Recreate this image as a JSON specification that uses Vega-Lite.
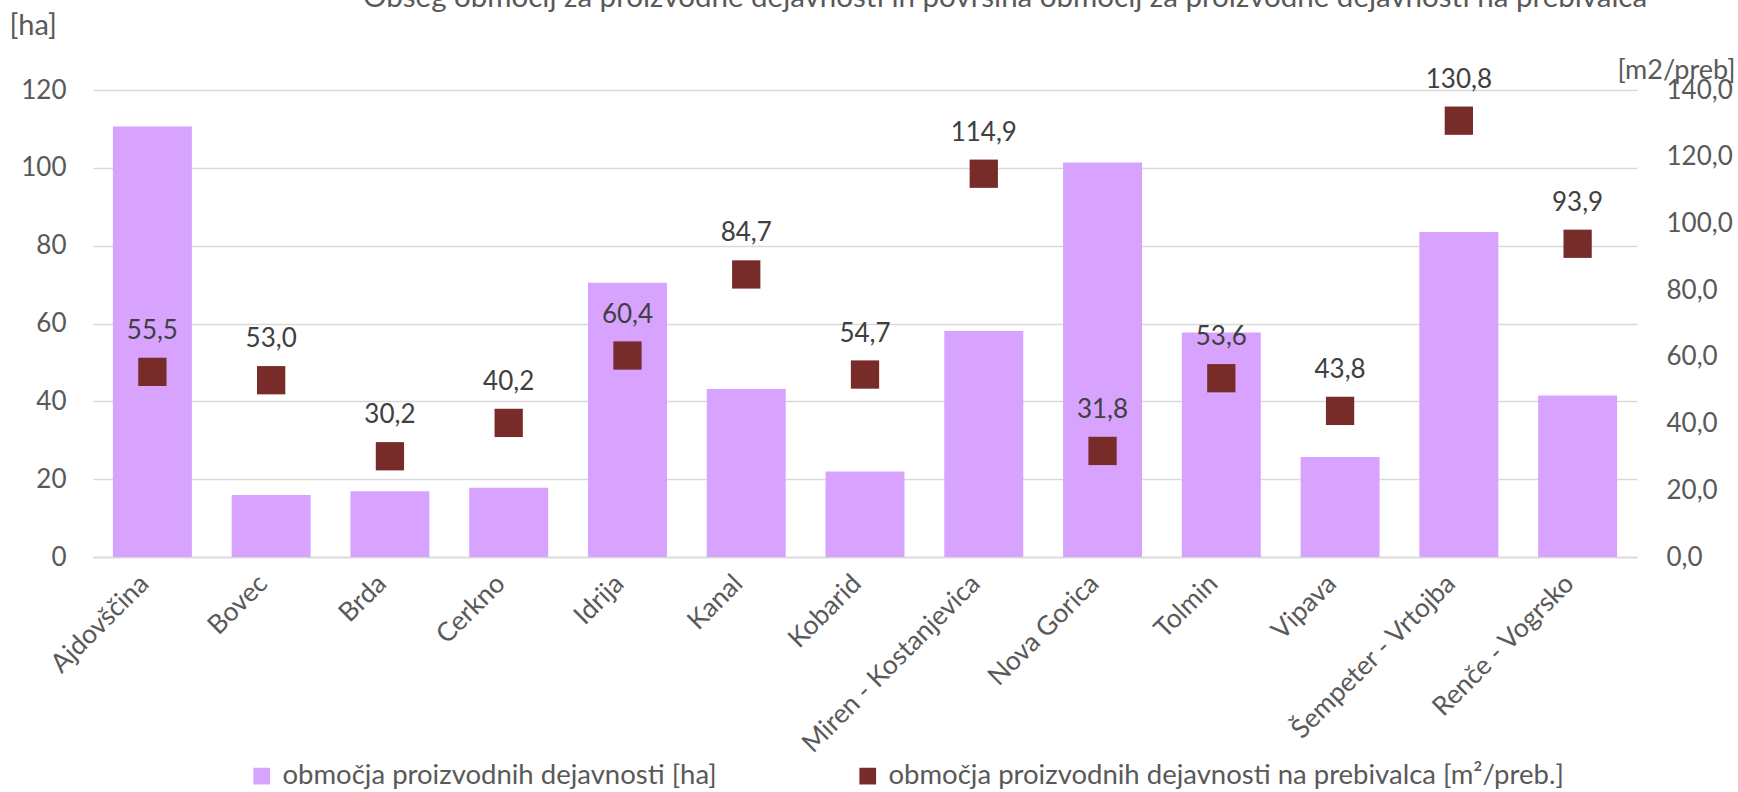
{
  "$schema": "https://vega.github.io/schema/vega-lite/v6.json",
  "width": 1544,
  "height": 467,
  "autosize": {"type": "none"},
  "padding": {"left": 93, "top": 90, "right": 101, "bottom": 235},
  "background": "white",
  "config": {
    "view": {"stroke": null},
    "font": "Lato",
    "locale": {"number": {"decimal": ",", "thousands": ".", "grouping": [3], "currency": ["", " €"]}}
  },
  "title": {
    "text": "Obseg območij za proizvodne dejavnosti in površina območij za proizvodne dejavnosti na prebivalca",
    "font": "Lato",
    "fontSize": 29.5,
    "fontWeight": "normal",
    "color": "#595959",
    "anchor": "middle",
    "baseline": "alphabetic",
    "dx": 140,
    "dy": 25,
    "offset": 0
  },
  "data": {
    "values": [
      {"obcina": "Ajdovščina", "ha": 110.6, "m2": 55.5},
      {"obcina": "Bovec", "ha": 15.9, "m2": 53.0},
      {"obcina": "Brda", "ha": 16.9, "m2": 30.2},
      {"obcina": "Cerkno", "ha": 17.8, "m2": 40.2},
      {"obcina": "Idrija", "ha": 70.5, "m2": 60.4},
      {"obcina": "Kanal", "ha": 43.2, "m2": 84.7},
      {"obcina": "Kobarid", "ha": 22.0, "m2": 54.7},
      {"obcina": "Miren - Kostanjevica", "ha": 58.1, "m2": 114.9},
      {"obcina": "Nova Gorica", "ha": 101.4, "m2": 31.8},
      {"obcina": "Tolmin", "ha": 57.7, "m2": 53.6},
      {"obcina": "Vipava", "ha": 25.7, "m2": 43.8},
      {"obcina": "Šempeter - Vrtojba", "ha": 83.5, "m2": 130.8},
      {"obcina": "Renče - Vogrsko", "ha": 41.5, "m2": 93.9}
    ]
  },
  "encoding": {
    "x": {
      "field": "obcina",
      "type": "nominal",
      "sort": null,
      "scale": {"paddingInner": 0.335, "paddingOuter": 0.1675},
      "axis": {
        "title": null,
        "labelAngle": -45,
        "labelFontSize": 26.5,
        "labelColor": "#595959",
        "labelFont": "Lato",
        "labelPadding": 13,
        "labelOffset": -17,
        "ticks": false,
        "domain": true,
        "domainColor": "#d9d9d9",
        "domainWidth": 1.5,
        "labelLimit": 400
      }
    }
  },
  "layer": [
    {
      "mark": {"type": "bar"},
      "encoding": {
        "y": {
          "field": "ha",
          "type": "quantitative",
          "scale": {"domain": [0, 120], "nice": false},
          "axis": {
            "orient": "left",
            "values": [0, 20, 40, 60, 80, 100, 120],
            "format": "d",
            "grid": true,
            "gridColor": "#d9d9d9",
            "gridWidth": 1.5,
            "domain": false,
            "ticks": false,
            "labelFontSize": 26,
            "labelColor": "#595959",
            "labelPadding": 27,
            "title": "[ha]",
            "titleAngle": 0,
            "titleFontSize": 29,
            "titleFontWeight": "normal",
            "titleColor": "#595959",
            "titleAlign": "left",
            "titleBaseline": "middle",
            "titleX": -84,
            "titleY": -65
          }
        },
        "color": {
          "datum": "območja proizvodnih dejavnosti [ha]",
          "type": "nominal",
          "scale": {
            "domain": ["območja proizvodnih dejavnosti [ha]", "območja proizvodnih dejavnosti na prebivalca [m²/preb.]"],
            "range": ["#D8A3FF", "#772C2A"]
          },
          "legend": {
            "orient": "none",
            "legendX": 155,
            "legendY": 672,
            "direction": "horizontal",
            "title": null,
            "symbolType": "square",
            "symbolSize": 280,
            "symbolStrokeWidth": 0,
            "labelFontSize": 27.5,
            "labelColor": "#595959",
            "labelLimit": 1000,
            "labelOffset": 7,
            "columnPadding": 137
          }
        }
      }
    },
    {
      "layer": [
        {
          "mark": {"type": "point", "shape": "square", "filled": true, "size": 800, "opacity": 1},
          "encoding": {
            "y": {
              "field": "m2",
              "type": "quantitative",
              "scale": {"domain": [0, 140], "nice": false},
              "axis": {
                "orient": "right",
                "values": [0, 20, 40, 60, 80, 100, 120, 140],
                "format": ".1f",
                "grid": false,
                "domain": false,
                "ticks": false,
                "labelFontSize": 26,
                "labelColor": "#595959",
                "labelPadding": 29,
                "title": "[m2/preb]",
                "titleAngle": 0,
                "titleFontSize": 27,
                "titleFontWeight": "normal",
                "titleColor": "#595959",
                "titleAlign": "right",
                "titleBaseline": "middle",
                "titleX": 98,
                "titleY": -20
              }
            },
            "color": {"datum": "območja proizvodnih dejavnosti na prebivalca [m²/preb.]", "type": "nominal"}
          }
        },
        {
          "mark": {"type": "text", "dy": -33, "baseline": "alphabetic", "fontSize": 26, "color": "#404040", "font": "Lato"},
          "encoding": {
            "y": {"field": "m2", "type": "quantitative"},
            "text": {"field": "m2", "type": "quantitative", "format": ".1f"}
          }
        }
      ]
    }
  ],
  "resolve": {"scale": {"y": "independent"}}
}
